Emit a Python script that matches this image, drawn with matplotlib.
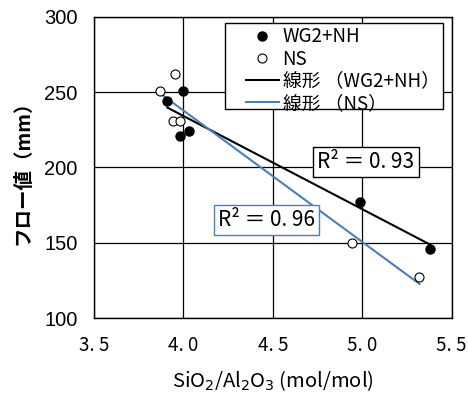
import numpy as np
import matplotlib
matplotlib.use("Agg")
import matplotlib.pyplot as plt
from matplotlib.patches import Rectangle

plt.rcParams['font.family'] = ['Noto Sans CJK JP', 'DejaVu Sans']

# data
wg_x = [4.00, 3.91, 3.98, 4.03, 4.99, 5.38]
wg_y = [251, 244, 221, 224, 177, 146]
ns_x = [3.87, 3.95, 3.94, 3.98, 4.94, 5.32]
ns_y = [251, 262, 231, 231, 150, 127]

x_ticks = [3.5, 4.0, 4.5, 5.0, 5.5]
x_tick_labels = ["3. 5", "4. 0", "4. 5", "5. 0", "5. 5"]
y_ticks = [100, 150, 200, 250, 300]

r2_wg = "R² ＝ 0. 93"
r2_ns = "R² ＝ 0. 96"

blue = "#4a7ebb"

fig = plt.figure(figsize=(4.68, 3.99), dpi=100)
ax = fig.add_axes([0.201, 0.203, 0.764, 0.755])

# scatter points
ax.plot(wg_x, wg_y, 'o', color='black', markersize=6.5, label="WG2+NH", zorder=4)
ax.plot(ns_x, ns_y, 'o', markerfacecolor='white', markeredgecolor='black',
        markeredgewidth=0.8, markersize=6.5, label="NS", zorder=4)

# linear trend lines
for xs, ys, c, lab in [(wg_x, wg_y, 'black', "線形 （WG2+NH）"),
                       (ns_x, ns_y, blue, "線形 （NS）")]:
    k, b = np.polyfit(xs, ys, 1)
    xx = np.array([min(xs), max(xs)])
    ax.plot(xx, k * xx + b, color=c, linewidth=1.5, label=lab, zorder=3)

ax.set_xlim(3.5, 5.5)
ax.set_ylim(100, 300)
ax.set_xticks(x_ticks)
ax.set_xticklabels(x_tick_labels, fontsize=13.5)
ax.set_yticks(y_ticks)
ax.set_yticklabels([str(v) for v in y_ticks], fontsize=14.5,
                   family=['Liberation Sans'])
ax.tick_params(length=0, pad=12)
ax.grid(True, color='black', linewidth=0.9)
ax.set_axisbelow(True)
for s in ax.spines.values():
    s.set_linewidth(1.0)
    s.set_color('black')

ax.set_xlabel("SiO$_2$/Al$_2$O$_3$ (mol/mol)", fontsize=14.5, labelpad=9)
ax.set_ylabel("フロー値（mm）", fontsize=14, fontweight='bold', labelpad=8)

ax.text(5.02, 203.5, r2_wg, fontsize=15, ha='center', va='center', zorder=5,
        bbox=dict(boxstyle='square,pad=0.2', fc='white', ec='black', lw=1.0))
ax.text(4.465, 165, r2_ns, fontsize=15, ha='center', va='center', zorder=5,
        bbox=dict(boxstyle='square,pad=0.2', fc='white', ec=blue, lw=1.0))

# legend frame drawn separately so it can have the wide left margin
ax.add_patch(Rectangle((0.3675, 0.694), 0.6095, 0.285, transform=ax.transAxes,
                       fc='white', ec='black', lw=1.0, zorder=6))
leg = ax.legend(loc='upper left', bbox_to_anchor=(0.425, 0.968), fontsize=13.5,
                frameon=False, borderpad=0, labelspacing=0.06,
                handlelength=1.75, handletextpad=0.2, borderaxespad=0)
leg.set_zorder(7)

fig.savefig("out.png", dpi=100)
